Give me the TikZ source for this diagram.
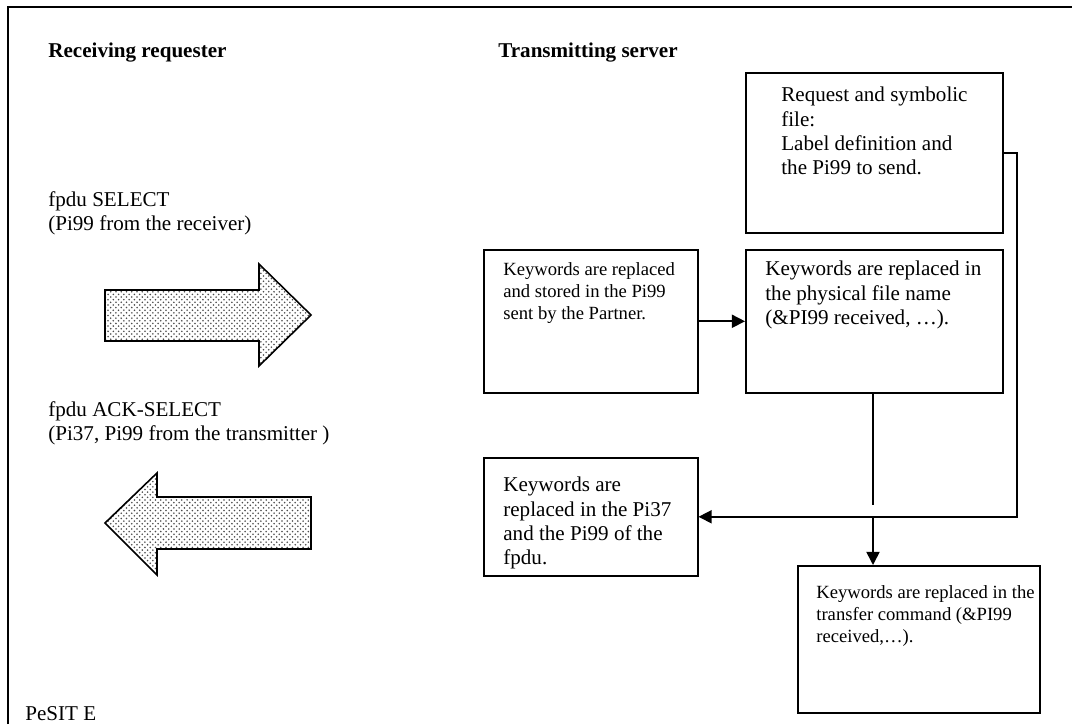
\documentclass[tikz,border=0pt]{standalone}
\usepackage{fontspec}
\setmainfont{Liberation Serif}
\usetikzlibrary{arrows.meta,patterns}

\tikzset{
  box/.style={draw, line width=0.9pt, anchor=north west, inner sep=0pt},
  txt/.style={anchor=north west, inner sep=0pt, align=left, font=\fontsize{12}{13.8}\selectfont},
  small/.style={font=\fontsize{10.6}{12.6}\selectfont},
  head/.style={anchor=west, inner sep=0pt, font=\fontsize{12}{13.8}\selectfont\bfseries},
  link/.style={line width=0.9pt},
  tip/.style={-{Triangle[length=7.5pt,width=7.5pt]}},
  blockarrow/.style={draw, line width=0.9pt, pattern=crosshatch dots, pattern color=black!70}
}

\begin{document}
\begin{tikzpicture}[x=0.02cm, y=-0.02cm]
            \useasboundingbox (0,0) rectangle (1072,724);
            % Frame
            \draw[line width=1.2pt] (8,724) -- (8,7) -- (1072,7);

            % Titles
            \node[head] (recv) at (48,53) {Receiving requester};
            \node[head] (trans) at (498,53) {Transmitting server};
            \node[txt, anchor=west] (pesit) at (25,714) {PeSIT E};

            % Exchanged fpdus
            \node[txt] (sel) at (48,191) {fpdu SELECT\\(Pi99 from the receiver)};
            \draw[blockarrow] (105,290) -- (259,290) -- (259,264) -- (311,315)
                -- (259,366) -- (259,341) -- (105,341) -- cycle;

            \node[txt] (acksel) at (48,401) {fpdu ACK-SELECT\\(Pi37, Pi99 from the transmitter )};
            \draw[blockarrow] (105,523) -- (157,473) -- (157,497) -- (311,497)
                -- (311,549) -- (157,549) -- (157,575) -- cycle;

            % Server boxes
            \node[box, minimum width=5.14cm, minimum height=3.2cm] (req) at (745,72) {};
            \node[txt] (reqt) at (781,87) {Request and symbolic\\file:\\Label definition and\\the Pi99 to send.};

            \node[box, minimum width=4.28cm, minimum height=2.86cm] (stored) at (483,249) {};
            \node[txt, small] (storedt) at (503,262) {Keywords are replaced\\and stored in the Pi99\\sent by the Partner.};

            \node[box, minimum width=5.14cm, minimum height=2.86cm] (phys) at (745,249) {};
            \node[txt] (physt) at (765,261) {Keywords are replaced in\\the physical file name\\(\&PI99 received, \dots).};

            \node[box, minimum width=4.28cm, minimum height=2.36cm] (ack) at (483,457) {};
            \node[txt] (ackt) at (503,477) {Keywords are\\replaced in the Pi37\\and the Pi99 of the\\fpdu.};

            \node[box, minimum width=4.84cm, minimum height=2.94cm] (cmd) at (797,565) {};
            \node[txt, small] (cmdt) at (816,585) {Keywords are replaced in the\\transfer command (\&PI99\\received,\dots).};

            % Connectors
            \coordinate (rail) at (1017,0);
            \coordinate (stop) at (873,505);
            \draw[link, tip] (stored) -- (phys);
            \draw[link, tip] (req.east) -| (rail |- ack.east) -- (ack.east);
            \draw[link] (phys.south -| stop) -- (stop);
            \draw[link, tip] (stop |- ack.east) -- (stop |- cmd.north);
        \end{tikzpicture}
\end{document}
